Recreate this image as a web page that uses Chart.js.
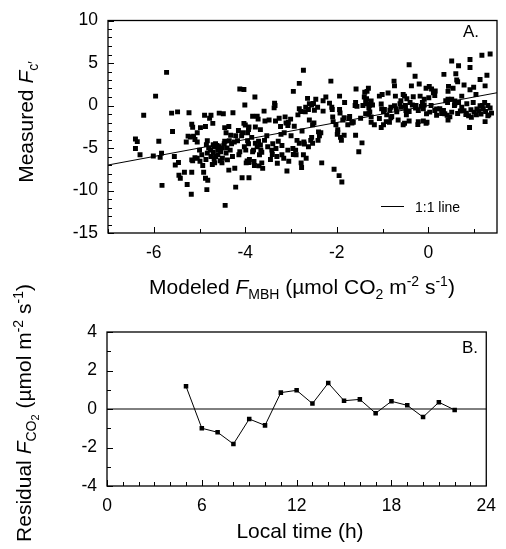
<!DOCTYPE html>
<html><head><meta charset="utf-8">
<script src="https://cdn.jsdelivr.net/npm/chart.js@4.4.1/dist/chart.umd.min.js"></script>
<style>
html,body{margin:0;padding:0;background:#fff;}
#wrap{position:relative;width:506px;height:549px;overflow:hidden;font-family:"Liberation Sans",Arial,sans-serif;color:#000;background:#fff;}
canvas{position:absolute;left:0;}
.lbl{position:absolute;white-space:nowrap;line-height:1;font-size:21px;}
.rot{transform:translate(-50%,-50%) rotate(-90deg);}
.hor{transform:translate(-50%,-50%);}
.lbl sub,.lbl sup{font-size:14px;line-height:0;}
.lbl sub sub{font-size:11px;}
</style></head><body>
<div id="wrap">
<canvas id="topChart" width="506" height="300" style="top:0"></canvas>
<canvas id="botChart" width="506" height="249" style="top:300px"></canvas>
<div class="lbl rot" style="left:25px;top:122px">Measured <i>F</i><sub>c′</sub></div>
<div class="lbl hor" style="left:302px;top:286px">Modeled <i>F</i><sub>MBH</sub> (µmol CO<sub>2</sub> m<sup>-2</sup> s<sup>-1</sup>)</div>
<div class="lbl rot" style="left:24px;top:413px">Residual <i>F</i><sub>CO<sub>2</sub></sub> (µmol m<sup>-2</sup> s<sup>-1</sup>)</div>
<div class="lbl hor" style="left:300px;top:530px">Local time (h)</div>
<div class="lbl" style="left:463px;top:23px;font-size:17px">A.</div>
<div class="lbl" style="left:462px;top:339px;font-size:17px">B.</div>
<div style="position:absolute;left:381px;top:206px;width:23px;border-top:1px solid #000"></div>
<div class="lbl" style="left:415px;top:200px;font-size:14px">1:1 line</div>
</div>
<script>
// ---- Panel A data: modeled vs measured flux ----
const modeledF = [
-6.4,-6.36,-6.4,-6.3,-6.22,-6.01,-5.96,-5.89,-5.86,-5.83,
-5.82,-5.72,-5.61,-5.48,-5.59,-5.55,-5.53,-5.46,-5.45,-5.42,
-5.33,-5.29,-5.27,-5.23,-5.18,-5.17,-5.15,-5.2,-5.13,-5.05,
-5.17,-5.17,-5.1,-5.15,-5.05,-5.05,-5.0,-4.99,-4.98,-4.93,
-4.91,-4.89,-4.87,-4.87,-4.86,-4.84,-4.82,-4.83,-4.83,-4.78,
-4.75,-4.76,-4.72,-4.71,-4.69,-4.68,-4.65,-4.67,-4.65,-4.62,
-4.6,-4.57,-4.57,-4.54,-4.48,-4.5,-4.51,-4.46,-4.45,-4.45,
-4.42,-4.44,-4.42,-4.39,-4.36,-4.36,-4.35,-4.33,-4.32,-4.3,
-4.28,-4.27,-4.24,-4.21,-4.23,-4.21,-4.17,-4.15,-4.14,-4.12,
-4.12,-4.08,-4.07,-4.06,-4.03,-4.03,-4.02,-4.01,-4.0,-3.99,
-3.98,-3.95,-3.95,-3.93,-3.93,-3.92,-3.91,-3.96,
-4.8,-4.7,-4.6,-4.55,-4.5,-4.75,-4.4,-4.85,-4.95,-4.7,-5.25,-5.1,
-2.73,-2.82,-2.13,-2.95,-3.79,-1.58,-1.34,-1.31,-2.64,-2.46,
-2.24,-1.94,-3.36,-3.37,-3.59,-2.82,-2.79,-2.68,-2.62,-2.55,
-2.51,-2.42,-2.3,-2.16,-2.1,-1.94,-1.93,-1.83,-1.59,-1.56,
-1.4,-1.37,-1.33,-1.29,-1.35,-1.3,-3.84,-3.74,-3.72,-3.57,
-3.34,-3.13,-3.01,-3.06,-3.07,-3.92,-3.78,-3.67,-3.23,-2.6,
-2.53,-2.4,-2.09,-2.02,-1.98,-1.84,-1.73,-1.76,-1.64,-1.37,
-1.3,-1.25,
-3.48,-3.35,-3.26,-3.11,-2.93,-2.85,-2.76,-2.69,-2.6,-2.5,-2.49,-2.3,-2.11,-2.08,-1.87,-1.72,-1.67,-1.6,-1.48,-1.43,-1.39,-1.28,
-3.86,-3.84,-3.82,-3.8,-3.74,-3.71,-3.7,-3.69,-3.66,-3.64,
-3.62,-3.58,-3.53,-3.51,-3.45,-3.42,-3.4,-3.33,-3.31,-3.28,
-3.22,-3.2,-3.2,-3.16,-3.15,-3.09,-3.07,-3.05,-3.0,-2.96,
-2.9,-2.89,-2.87,-2.78,-2.77,-2.73,-2.72,-2.67,-2.62,-2.57,
-2.55,-2.41,-2.38,-2.35,-2.33,-2.06,-1.99,-1.95,-1.92,-1.9,
-1.89,-1.52,-1.45,
-3.78,-3.67,-3.64,-3.41,-3.3,-2.95,-3.92,-3.81,-2.82,-2.71,-2.53,-1.98,-1.84,-1.59,
-0.42,0.51,0.66,0.91,0.91,1.17,1.35,-0.29,0.34,0.6,
1.28,-0.37,-0.2,0.64,0.78,1.13,1.24,-0.75,-0.74,-1.07,
-1.01,-0.88,-0.72,-0.55,-0.52,-0.47,-0.33,-0.05,0.02,0.07,
-0.18,-0.09,0.01,0.14,0.43,0.54,0.91,1.04,0.43,0.51,
0.58,0.58,0.98,1.13,-1.25,-1.22,-1.03,-0.96,-0.98,-0.82,
-0.74,-0.7,-0.59,-0.49,-0.42,-0.35,-0.28,-0.22,-0.15,-0.11,
-0.04,0.03,0.14,0.18,0.25,0.33,0.36,0.41,0.47,0.51,
0.73,0.78,0.83,0.88,0.93,1.0,1.05,1.1,1.15,1.2,
1.25,1.3,1.35,1.38,-0.52,-0.42,-0.22,-0.11,-0.05,-0.03,
0.43,0.9,1.24,-0.82,-0.85,-1.07,-0.98,-0.92,-1.25,-1.18,
-1.03,-0.55,
-1.02,-0.91,-0.84,-0.8,-0.69,-0.66,-0.62,-0.6,-0.5,-0.48,
-0.4,-0.27,-0.23,-0.13,-0.09,0.06,0.11,0.15,0.18,0.29,
0.38,0.42,0.44,0.57,0.62,0.64,0.66,0.7,0.73,0.82,
0.84,0.94,0.99,1.06,1.18,1.23,1.3,1.32
];
const measuredF = [
-3.95,-4.25,-5.05,-5.8,-1.15,-5.95,1.1,-4.2,-6.1,-5.6,
-9.4,3.9,-0.9,-0.75,-3.07,-6.0,-7.0,-6.7,-8.2,-8.55,
-7.85,-4.3,-9.3,-0.85,-10.45,-2.2,-2.55,-3.7,-3.6,-3.2,
-6.4,-7.85,-6.15,-6.5,-4.3,-6.2,-5.25,-6.55,-2.6,-7.05,
-7.85,-1.15,-8.55,-2.47,-6.35,-9.9,-8.8,-4.15,-5.6,-1.5,
-1.15,-5.25,-6.95,-2.1,-4.85,-6.3,-6.0,-6.75,-4.5,-4.7,
-5.25,-4.85,-0.9,-5.45,-0.96,-6.2,-6.75,-4.5,-4.2,-2.6,
-5.6,-11.75,-3.2,-6.4,-7.6,-2.47,-4.15,-5.25,-3.5,-4.5,
-6.0,-0.85,-4.3,-3.55,-7.38,-9.6,-4.15,-2.95,-5.8,-5.45,
1.95,-3.55,-8.5,-3.2,1.88,-2.1,-4.85,0.05,-2.3,-5.25,
-6.75,-3.2,-4.15,-4.5,-2.84,-8.5,-6.35,-6.52,
-5.0,-5.5,-5.8,-6.5,-5.0,-6.0,-5.0,-4.6,-5.8,-4.6,-3.6,-4.0,
4.15,2.6,2.87,1.66,1.0,1.93,1.66,2.04,0.84,0.73,
1.0,1.1,0.28,-0.28,-0.66,-0.39,-0.7,-0.2,-0.47,0.05,
0.24,-0.2,-0.66,0.28,-0.47,-0.47,-0.89,0.35,0.35,-0.1,
1.0,0.5,0.2,0.0,0.8,-0.3,-1.26,-1.26,-1.6,-1.83,
-1.83,-1.34,-1.6,-1.97,-2.35,-2.53,-2.53,-2.84,-2.46,-1.71,
-2.27,-3.1,-1.34,-2.27,-2.84,-1.45,-1.52,-2.27,-1.97,-0.96,
-0.96,-1.34,
-1.7,0.0,-1.5,-2.05,-2.45,-1.1,-3.0,-0.75,0.2,-2.05,-0.55,0.55,-0.2,-1.9,-1.7,-1.3,-2.05,0.0,-1.5,0.0,1.55,-0.75,
-3.75,-5.45,-5.25,-7.05,-4.85,-4.2,-7.1,-5.8,-5.25,-6.75,
-7.4,-4.1,-3.55,-4.85,-6.35,-5.25,-4.5,-5.05,-6.0,-4.2,
-3.4,-5.8,-4.7,-6.2,-3.2,-7.7,-5.25,-6.55,-3.55,-5.05,
-5.25,-5.8,-4.1,-6.75,-7.3,-5.8,-4.3,-6.2,-4.85,-4.1,
-3.75,-4.1,-3.55,-3.2,-6.75,-7.5,-3.4,-8.25,-3.75,-4.1,
-9.0,-5.45,-4.4,
-4.45,-4.64,-5.5,-5.77,-6.8,-5.77,-6.7,-6.59,-4.45,-4.53,-4.45,-3.14,-3.51,-3.51,
4.79,5.24,4.67,5.42,4.48,5.91,6.06,3.43,3.66,3.73,
3.55,2.31,2.53,2.79,2.42,3.05,2.31,2.87,2.31,1.1,
1.3,1.48,1.1,1.3,1.1,0.8,1.02,2.04,2.23,1.93,
1.1,0.73,0.91,1.18,1.66,2.04,1.86,1.3,0.73,0.73,
0.54,0.17,0.35,-0.02,0.54,0.05,0.17,-0.47,-0.7,-0.21,
-0.02,-0.39,-0.21,-0.59,-0.7,0.05,-0.3,-0.59,-0.1,-0.4,
-0.96,-0.78,-0.59,-1.15,-0.39,-0.59,-0.96,-1.15,-1.34,-0.78,
-0.2,-0.6,-0.9,-1.2,-0.5,-0.8,-1.1,-0.6,-1.0,-0.4,
-0.7,-1.2,-0.3,-0.9,-2.08,-1.83,-1.9,-1.83,-2.08,-1.97,
-1.71,-2.58,-1.9,-1.45,-1.97,-1.52,-2.27,-1.9,-1.97,-2.27,
-2.58,-2.27,
-0.4,-1.1,-0.55,-1.3,-0.75,-1.7,0.2,0.55,0.0,-1.1,
0.35,0.0,-2.25,0.35,0.05,0.0,1.5,1.7,-0.4,-0.95,
0.55,0.35,2.25,0.0,3.0,-0.95,0.35,-0.65,1.1,-1.05,
0.2,-1.4,2.15,-0.4,0.0,0.35,0.0,-1.1
];
const oneToOneRange = [-7, 1.5];
const xTicksA = [-6, -4, -2, 0];
const yTicksA = [-15, -10, -5, 0, 5, 10];

// ---- Panel B data: hourly residuals ----
const hours = [5,6,7,8,9,10,11,12,13,14,15,16,17,18,19,20,21,22];
const residual = [1.18,-1.0,-1.21,-1.82,-0.52,-0.85,0.85,0.97,0.28,1.35,0.43,0.5,-0.22,0.4,0.19,-0.42,0.35,-0.05];
const zeroLineRange = [0, 24];
const xTicksB = [0, 6, 12, 18, 24];
const yTicksB = [-4, -2, 0, 2, 4];

const FONT = '"Liberation Sans", Arial, sans-serif';

const frameTicks = {
  id: 'frameTicks',
  afterDatasetsDraw(chart, args, opts) {
    const {ctx, chartArea: a, scales} = chart;
    const xs = scales.x, ys = scales.y;
    ctx.save();
    ctx.strokeStyle = '#000';
    ctx.lineWidth = 1;
    ctx.beginPath();
    for (let v = Math.ceil(xs.min); v <= xs.max + 1e-9; v += 1) {
      const p = Math.round(xs.getPixelForValue(v)) + 0.5;
      const len = opts.xMajor.includes(v) ? 6 : 4;
      ctx.moveTo(p, a.bottom); ctx.lineTo(p, a.bottom - len);
    }
    for (let v = Math.ceil(ys.min); v <= ys.max + 1e-9; v += 1) {
      const p = Math.round(ys.getPixelForValue(v)) + 0.5;
      const len = opts.yMajor.includes(v) ? 6 : 4;
      ctx.moveTo(a.left, p); ctx.lineTo(a.left + len, p);
    }
    ctx.stroke();
    ctx.lineWidth = 1.3;
    ctx.strokeRect(a.left, a.top, a.right - a.left, a.bottom - a.top);
    ctx.restore();
  }
};

function axis(min, max, tickVals, fit, isX) {
  return {
    type: 'linear', min, max,
    grid: {display: false, drawTicks: false},
    border: {display: false},
    afterBuildTicks: s => { s.ticks = tickVals.map(v => ({value: v})); },
    afterFit: s => { if (isX) s.height = fit; else s.width = fit; },
    ticks: {color: '#000', font: {family: FONT, size: 17.5}, padding: isX ? 10 : 10, maxRotation: 0, autoSkip: false}
  };
}

new Chart(document.getElementById('topChart'), {
  data: {
    datasets: [
      {
        type: 'scatter',
        data: modeledF.map((x, i) => ({x, y: measuredF[i]})),
        pointStyle: 'rect', pointRadius: 3.5, pointBorderWidth: 0,
        backgroundColor: '#000', borderColor: '#000'
      },
      {
        type: 'line',
        data: oneToOneRange.map(v => ({x: v, y: v})),
        borderColor: '#000', borderWidth: 1, pointRadius: 0, fill: false
      }
    ]
  },
  options: {
    responsive: false, animation: false, devicePixelRatio: 1,
    layout: {padding: {top: 11, right: 9, left: 0, bottom: 0}},
    plugins: {legend: {display: false}, tooltip: {enabled: false},
      frameTicks: {xMajor: xTicksA, yMajor: yTicksA}},
    scales: {
      x: axis(-7, 1.5, xTicksA, 67, true),
      y: axis(-15, 10, yTicksA, 108, false)
    }
  },
  plugins: [frameTicks]
});

new Chart(document.getElementById('botChart'), {
  data: {
    datasets: [
      {
        type: 'line',
        data: hours.map((h, i) => ({x: h, y: residual[i]})),
        borderColor: '#000', borderWidth: 1, backgroundColor: '#000',
        pointStyle: 'rect', pointRadius: 3.2, pointBorderWidth: 0, tension: 0, fill: false
      },
      {
        type: 'line',
        data: zeroLineRange.map(v => ({x: v, y: 0})),
        borderColor: '#000', borderWidth: 1, pointRadius: 0, fill: false
      }
    ]
  },
  options: {
    responsive: false, animation: false, devicePixelRatio: 1,
    layout: {padding: {top: 32, right: 10, left: 0, bottom: 0}},
    plugins: {legend: {display: false}, tooltip: {enabled: false},
      frameTicks: {xMajor: xTicksB, yMajor: yTicksB}},
    scales: {
      x: axis(0, 24, xTicksB, 63, true),
      y: axis(-4, 4, yTicksB, 107, false)
    }
  },
  plugins: [frameTicks]
});
</script>
</body></html>
